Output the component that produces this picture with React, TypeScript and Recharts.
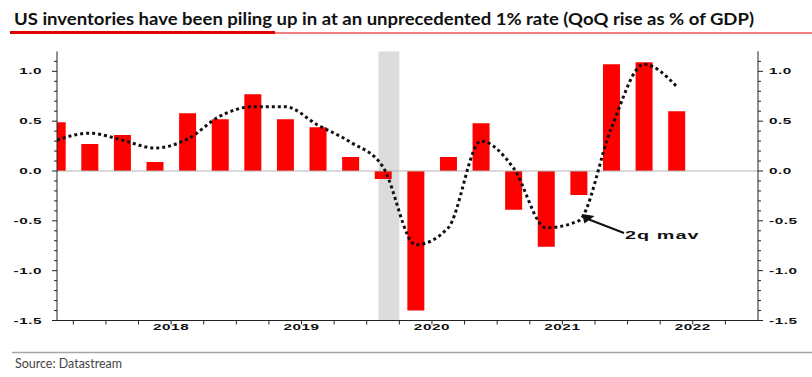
import React from "react";
import { ComposedChart, Bar, Line, XAxis, YAxis, ReferenceArea, ReferenceLine } from "recharts";

// quarter index: 0 = 2017 Q3 ... 19 = 2022 Q2
const QUARTERS = [0, 1, 2, 3, 4, 5, 6, 7, 8, 9, 10, 11, 12, 13, 14, 15, 16, 17, 18, 19];
const INVENTORY = [0.49, 0.27, 0.36, 0.09, 0.58, 0.52, 0.77, 0.52, 0.44, 0.14, -0.08, -1.4, 0.14, 0.48, -0.39, -0.76, -0.24, 1.07, 1.09, 0.6];
const MAV_2Q = [0.31, 0.38, 0.31, 0.23, 0.32, 0.55, 0.645, 0.645, 0.46, 0.29, 0.04, -0.74, -0.57, 0.3, 0.03, -0.57, -0.5, 0.43, 1.07, 0.85];

// quarter boundaries (x axis ticks) and year labels at mid-year
const X_TICKS = [0.5, 1.5, 2.5, 3.5, 4.5, 5.5, 6.5, 7.5, 8.5, 9.5, 10.5, 11.5, 12.5, 13.5, 14.5, 15.5, 16.5, 17.5, 18.5, 19.5, 20.5];
const YEAR_AT = [3.5, 7.5, 11.5, 15.5, 19.5];
const YEARS = ["2018", "2019", "2020", "2021", "2022"];
const Y_TICKS = [-1.5, -1.4, -1.3, -1.2, -1.1, -1.0, -0.9, -0.8, -0.7, -0.6, -0.5, -0.4, -0.3, -0.2, -0.1, 0, 0.1, 0.2, 0.3, 0.4, 0.5, 0.6, 0.7, 0.8, 0.9, 1.0, 1.1];

// covid recession, Feb-Apr 2020
const RECESSION_START = 9.86;
const RECESSION_END = 10.5;

const TITLE = "US inventories have been piling up in at an unprecedented 1% rate (QoQ rise as % of GDP)";

const data = QUARTERS.map((q, i) => ({ q, inv: INVENTORY[i], mav: MAV_2Q[i] }));

const AXIS_FONT = "'Liberation Sans', Arial, sans-serif";
const isMajor = (v: number) => Math.abs(v * 2 - Math.round(v * 2)) < 1e-6;

const XTick = (props: any) => {
  const { x, y, payload } = props;
  const k = YEAR_AT.indexOf(payload.value);
  return (
    <g>
      <line x1={x} x2={x} y1={y} y2={y + 4} stroke="#222" />
      {k >= 0 && (
        <text transform={`translate(${x},${y + 9.5}) scale(1.8,1)`} textAnchor="middle" fontFamily={AXIS_FONT} fontWeight="bold" fontSize={8.5} letterSpacing={0.3} fill="#111">
          {YEARS[k]}
        </text>
      )}
    </g>
  );
};

const YTick = (props: any) => {
  const { x, y, payload, side } = props;
  const v = payload.value;
  const major = isMajor(v);
  const dir = side === "left" ? -1 : 1;
  return (
    <g>
      <line x1={x} x2={x + dir * (major ? 5 : 3)} y1={y} y2={y} stroke="#222" />
      {major && (
        <text
          transform={`translate(${x + dir * (side === "left" ? 15 : 11)},${y + 3}) scale(1.8,1)`}
          textAnchor={side === "left" ? "end" : "start"}
          fontFamily={AXIS_FONT}
          fontWeight="bold"
          fontSize={8.5}
          letterSpacing={0.3}
          fill="#111"
        >
          {v.toFixed(1)}
        </text>
      )}
    </g>
  );
};

export default function App() {
  return (
    <div style={{ position: "absolute", left: 0, top: 0, width: 812, height: 377, background: "#fff" }}>
      <ComposedChart width={812} height={377} data={data} margin={{ top: 51.4, right: 0, bottom: 36.5, left: 0 }}>
        <XAxis
          dataKey="q"
          type="number"
          domain={[0, 21.5]}
          allowDataOverflow
          ticks={X_TICKS}
          interval={0}
          height={20}
          tickLine={false}
          tickSize={0}
          tickMargin={0}
          tick={<XTick />}
          axisLine={{ stroke: "#222" }}
        />
        <YAxis
          yAxisId="left"
          orientation="left"
          width={57}
          domain={[-1.5, 1.2]}
          ticks={Y_TICKS}
          interval={0}
          allowDataOverflow
          tickLine={false}
          tickSize={0}
          tickMargin={0}
          tick={<YTick side="left" />}
          axisLine={{ stroke: "#222" }}
        />
        <YAxis
          yAxisId="right"
          orientation="right"
          width={54}
          domain={[-1.5, 1.2]}
          ticks={Y_TICKS}
          interval={0}
          allowDataOverflow
          tickLine={false}
          tickSize={0}
          tickMargin={0}
          tick={<YTick side="right" />}
          axisLine={{ stroke: "#222" }}
        />
        <ReferenceArea yAxisId="left" x1={RECESSION_START} x2={RECESSION_END} fill="#dcdcdc" fillOpacity={1} stroke="none" />
        <ReferenceLine yAxisId="left" y={0} stroke="#b3b3b3" strokeWidth={1} />
        <Bar yAxisId="left" dataKey="inv" fill="#ff0000" barSize={17} isAnimationActive={false} />
        <Line
          yAxisId="left"
          dataKey="mav"
          type="monotone"
          stroke="#111"
          strokeWidth={3}
          strokeDasharray="3 3"
          dot={false}
          activeDot={false}
          isAnimationActive={false}
        />
      </ComposedChart>
      <svg width={812} height={377} style={{ position: "absolute", left: 0, top: 0, pointerEvents: "none" }}>
        <text x={14} y={25} fontFamily="Lato, 'Noto Sans', sans-serif" fontWeight={700} fontSize={17} fill="#111" textLength={740} lengthAdjust="spacingAndGlyphs">
          {TITLE}
        </text>
        <line x1={275} x2={812} y1={33} y2={33} stroke="#e30000" strokeWidth={1} />
        <line x1={10} x2={275} y1={32.5} y2={32.5} stroke="#e30000" strokeWidth={3} />
        <line x1={12} x2={812} y1={352.5} y2={352.5} stroke="#a6a6a6" strokeWidth={1.5} />
        <text x={15} y={367.5} fontFamily="Lato, 'Noto Sans', sans-serif" fontSize={12.5} fill="#444" textLength={107} lengthAdjust="spacingAndGlyphs">
          Source: Datastream
        </text>
        <line x1={589} y1={219.5} x2={624} y2={233} stroke="#111" strokeWidth={2} />
        <polygon points="582,214 584.5,223.5 594.5,216" fill="#111" />
        <text transform="translate(625,239) scale(1.8,1)" fontFamily={AXIS_FONT} fontWeight="bold" fontSize={11} letterSpacing={0.6} fill="#111">
          2q mav
        </text>
      </svg>
    </div>
  );
}
